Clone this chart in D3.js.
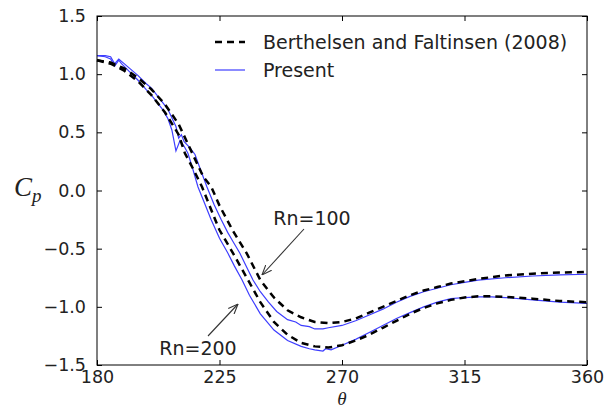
<!DOCTYPE html>
<html>
<head>
<meta charset="utf-8">
<script src="https://cdn.jsdelivr.net/npm/d3@7"></script>
<style>
  body { margin: 0; background: #fff; }
  text { font-family: "DejaVu Sans", sans-serif; fill: #222; }
</style>
</head>
<body>
<div id="area"></div>
<script>
// Berthelsen and Faltinsen (2008), dashed
var refTheta100 = [180, 185, 190, 195, 200, 205, 210, 215, 219, 222, 225, 230, 235, 240, 245, 250, 255, 260, 265, 270, 275, 280, 285, 290, 295, 300, 305, 310, 315, 320, 330, 340, 350, 360];
var refCp100 = [1.12, 1.10, 1.05, 0.97, 0.87, 0.74, 0.57, 0.32, 0.12, 0.03, -0.13, -0.35, -0.54, -0.77, -0.92, -1.03, -1.09, -1.13, -1.14, -1.13, -1.10, -1.05, -1.00, -0.95, -0.90, -0.86, -0.83, -0.80, -0.78, -0.76, -0.73, -0.715, -0.705, -0.70];
var refTheta200 = [180, 185, 190, 195, 200, 205, 210, 212.3, 215, 218.6, 223.4, 225, 230, 235.5, 240, 245, 250, 255, 260, 265, 270, 275, 280, 285, 290, 295, 300, 305, 310, 315, 320, 325, 330, 340, 350, 360];
var refCp200 = [1.12, 1.09, 1.03, 0.94, 0.82, 0.67, 0.48, 0.32, 0.20, 0.03, -0.25, -0.34, -0.54, -0.77, -0.96, -1.13, -1.24, -1.31, -1.34, -1.35, -1.33, -1.29, -1.24, -1.18, -1.12, -1.06, -1.01, -0.97, -0.94, -0.92, -0.91, -0.91, -0.915, -0.93, -0.95, -0.96];

// Present, solid blue
var preTheta100 = [180, 183, 185, 186.5, 188, 189, 192, 195, 198, 200, 202, 204, 206, 208, 209, 210, 211, 212, 214, 216, 218, 220.4, 223, 225.6, 228, 230, 232.5, 235, 237.3, 240, 243, 246, 250, 253, 255, 258, 260, 263, 265, 270, 275, 280, 285, 290, 295, 300, 305, 310, 315, 320, 330, 340, 350, 360];
var preCp100 = [1.16, 1.16, 1.15, 1.09, 1.13, 1.11, 1.05, 0.99, 0.92, 0.88, 0.82, 0.76, 0.70, 0.60, 0.55, 0.45, 0.48, 0.42, 0.37, 0.31, 0.18, 0.03, -0.12, -0.25, -0.36, -0.44, -0.54, -0.66, -0.77, -0.87, -0.96, -1.04, -1.11, -1.13, -1.16, -1.17, -1.19, -1.19, -1.18, -1.16, -1.12, -1.07, -1.02, -0.96, -0.91, -0.87, -0.84, -0.81, -0.79, -0.77, -0.75, -0.735, -0.725, -0.72];
var preTheta200 = [180, 183, 185, 186.5, 188, 189, 192, 195, 198, 200, 202, 204, 206, 207.5, 209, 210.5, 212, 213.4, 215, 217.1, 219, 221.9, 225, 228.1, 230.5, 233.3, 236, 240, 245, 250, 255, 258, 260, 263, 264, 266, 270, 275, 280, 285, 290, 295, 300, 305, 310, 315, 320, 325, 330, 340, 350, 360];
var preCp200 = [1.16, 1.15, 1.13, 1.07, 1.12, 1.09, 1.02, 0.95, 0.87, 0.82, 0.76, 0.70, 0.62, 0.52, 0.34, 0.43, 0.38, 0.32, 0.20, 0.03, -0.08, -0.25, -0.41, -0.54, -0.65, -0.77, -0.90, -1.06, -1.20, -1.29, -1.34, -1.36, -1.37, -1.38, -1.36, -1.37, -1.33, -1.28, -1.22, -1.16, -1.10, -1.05, -1.00, -0.96, -0.93, -0.92, -0.915, -0.915, -0.92, -0.94, -0.96, -0.97];

var xTicks = [180, 225, 270, 315, 360];
var yTicks = [-1.5, -1.0, -0.5, 0.0, 0.5, 1.0, 1.5];
var legendLabels = ["Berthelsen and Faltinsen (2008)", "Present"];

var margin = { top: 16, right: 25, bottom: 44, left: 97 },
  width = 612 - margin.left - margin.right,
  height = 409 - margin.top - margin.bottom;

var svg = d3.select("#area")
  .append("svg")
  .attr("width", 612)
  .attr("height", 409);

var g = svg.append("g")
  .attr("transform", "translate(" + margin.left + "," + margin.top + ")");

var x = d3.scaleLinear().domain([180, 360]).range([0, width]);
var y = d3.scaleLinear().domain([-1.5, 1.5]).range([height, 0]);

var line = d3.line()
  .x(function (d) { return x(d[0]); })
  .y(function (d) { return y(d[1]); });

function pairs(t, c) { return t.map(function (v, i) { return [v, c[i]]; }); }

// curves
[[preTheta100, preCp100], [preTheta200, preCp200]].forEach(function (s) {
  g.append("path")
    .datum(pairs(s[0], s[1]))
    .attr("d", line)
    .attr("fill", "none")
    .attr("stroke", "#3d3dff")
    .attr("stroke-width", 1.2);
});
[[refTheta100, refCp100], [refTheta200, refCp200]].forEach(function (s) {
  g.append("path")
    .datum(pairs(s[0], s[1]))
    .attr("d", line)
    .attr("fill", "none")
    .attr("stroke", "#000")
    .attr("stroke-width", 2.5)
    .attr("stroke-dasharray", "7,5");
});

// axes, ticks inward on all four sides
function styleAxis(sel) {
  sel.select(".domain").remove();
  sel.selectAll(".tick line").attr("stroke", "#000");
  sel.selectAll("text").style("font-size", "17.5px").style("font-family", "DejaVu Sans").attr("fill", "#222");
}
g.append("g").attr("transform", "translate(0," + height + ")")
  .call(d3.axisBottom(x).tickValues(xTicks).tickSizeInner(-5).tickPadding(6).tickFormat(d3.format("d")))
  .call(styleAxis);
g.append("g")
  .call(d3.axisLeft(y).tickValues(yTicks).tickSizeInner(-5).tickPadding(11).tickFormat(d3.format(".1f")))
  .call(styleAxis);
g.append("g")
  .call(d3.axisTop(x).tickValues(xTicks).tickSizeInner(-5).tickFormat(""))
  .call(styleAxis);
g.append("g").attr("transform", "translate(" + width + ",0)")
  .call(d3.axisRight(y).tickValues(yTicks).tickSizeInner(-5).tickFormat(""))
  .call(styleAxis);
g.selectAll(".tick text").text(function () { return d3.select(this).text().replace("-", "\u2212"); });

g.append("rect")
  .attr("width", width).attr("height", height)
  .attr("fill", "none").attr("stroke", "#000").attr("stroke-width", 1);

// legend
var leg = g.append("g").attr("transform", "translate(118,26)");
leg.append("line").attr("x1", 0).attr("x2", 30).attr("y1", 0).attr("y2", 0)
  .attr("stroke", "#000").attr("stroke-width", 2.5).attr("stroke-dasharray", "7,5");
leg.append("line").attr("x1", 0).attr("x2", 30).attr("y1", 28).attr("y2", 28)
  .attr("stroke", "#3d3dff").attr("stroke-width", 1.2);
leg.selectAll("text.lab").data(legendLabels).enter().append("text")
  .attr("class", "lab")
  .attr("x", 48).attr("y", function (d, i) { return i * 28; })
  .attr("dy", "0.36em")
  .style("font-size", "19px")
  .text(function (d) { return d; });

// annotations
svg.append("defs").append("marker")
  .attr("id", "arr").attr("viewBox", "0 0 10 10").attr("refX", 10).attr("refY", 5)
  .attr("markerWidth", 10).attr("markerHeight", 10).attr("markerUnits", "userSpaceOnUse")
  .attr("orient", "auto")
  .append("path").attr("d", "M0,1 L10,5 L0,9").attr("fill", "none").attr("stroke", "#333").attr("stroke-width", 1.1);

function annotate(label, tx, ty, x0, y0, x1, y1) {
  svg.append("text").attr("x", tx).attr("y", ty).attr("text-anchor", "middle")
    .attr("dy", "0.36em").style("font-size", "19px").text(label);
  svg.append("line").attr("x1", x0).attr("y1", y0).attr("x2", x1).attr("y2", y1)
    .attr("stroke", "#333").attr("stroke-width", 1.1).attr("marker-end", "url(#arr)");
}
annotate("Rn=100", 312, 218, 304, 229, 262, 275);
annotate("Rn=200", 198, 348, 208, 336, 238, 304);

// axis titles
var yl = svg.append("text").attr("x", 14).attr("y", 196)
  .style("font-family", "Liberation Serif, serif").style("font-style", "italic").style("font-size", "27px");
yl.append("tspan").text("C");
yl.append("tspan").attr("dy", 6).style("font-size", "19px").text("p");

svg.append("text").attr("x", 342).attr("y", 404.5).attr("text-anchor", "middle")
  .style("font-family", "Liberation Serif, serif").style("font-style", "italic").style("font-size", "19px")
  .text("\u03b8");
</script>
</body>
</html>
